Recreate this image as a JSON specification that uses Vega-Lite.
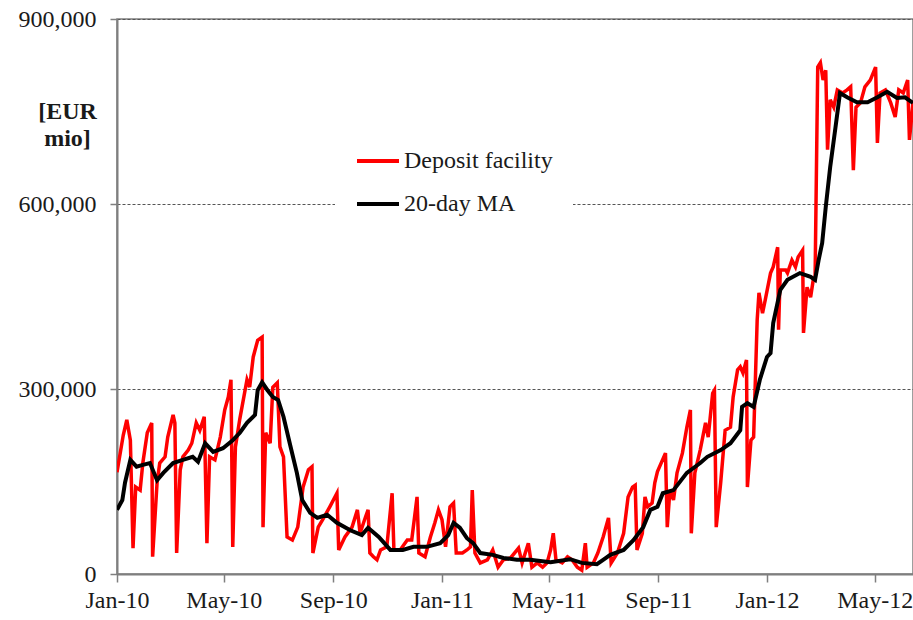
{
  "$schema": "https://vega.github.io/schema/vega-lite/v6.json",
  "width": 796,
  "height": 555,
  "autosize": {"type": "none"},
  "padding": {"left": 117, "top": 19, "right": 0, "bottom": 46},
  "background": "white",
  "config": {
    "font": "Liberation Serif",
    "view": {"stroke": "#7f7f7f", "strokeWidth": 1.5}
  },
  "datasets": {
    "deposit": [
      {"date": "2010-01-01", "value": 165000}, {"date": "2010-01-08", "value": 225000}, {"date": "2010-01-12", "value": 250000}, {"date": "2010-01-16", "value": 217000}, {"date": "2010-01-19", "value": 42000}, {"date": "2010-01-22", "value": 141000}, {"date": "2010-01-27", "value": 136000}, {"date": "2010-01-30", "value": 180000},
      {"date": "2010-02-04", "value": 229000}, {"date": "2010-02-09", "value": 245000}, {"date": "2010-02-10", "value": 28000}, {"date": "2010-02-15", "value": 148000}, {"date": "2010-02-18", "value": 180000}, {"date": "2010-02-24", "value": 190000}, {"date": "2010-02-27", "value": 222000},
      {"date": "2010-03-05", "value": 258000}, {"date": "2010-03-07", "value": 245000}, {"date": "2010-03-09", "value": 34000}, {"date": "2010-03-13", "value": 169000}, {"date": "2010-03-16", "value": 190000}, {"date": "2010-03-22", "value": 201000}, {"date": "2010-03-26", "value": 212000}, {"date": "2010-03-31", "value": 245000},
      {"date": "2010-04-04", "value": 233000}, {"date": "2010-04-09", "value": 255000}, {"date": "2010-04-12", "value": 50000}, {"date": "2010-04-15", "value": 190000}, {"date": "2010-04-21", "value": 185000}, {"date": "2010-04-27", "value": 222000},
      {"date": "2010-05-02", "value": 266000}, {"date": "2010-05-06", "value": 287000}, {"date": "2010-05-09", "value": 315000}, {"date": "2010-05-11", "value": 44000}, {"date": "2010-05-14", "value": 206000}, {"date": "2010-05-19", "value": 252000}, {"date": "2010-05-27", "value": 315000}, {"date": "2010-05-30", "value": 303000},
      {"date": "2010-06-03", "value": 352000}, {"date": "2010-06-08", "value": 379000}, {"date": "2010-06-13", "value": 384000}, {"date": "2010-06-14", "value": 76000}, {"date": "2010-06-17", "value": 229000}, {"date": "2010-06-22", "value": 212000}, {"date": "2010-06-25", "value": 303000}, {"date": "2010-06-30", "value": 310000},
      {"date": "2010-07-03", "value": 206000}, {"date": "2010-07-07", "value": 190000}, {"date": "2010-07-11", "value": 60000}, {"date": "2010-07-17", "value": 55000}, {"date": "2010-07-23", "value": 76000}, {"date": "2010-07-29", "value": 141000},
      {"date": "2010-08-04", "value": 169000}, {"date": "2010-08-08", "value": 174000}, {"date": "2010-08-09", "value": 34000}, {"date": "2010-08-15", "value": 76000}, {"date": "2010-08-20", "value": 88000}, {"date": "2010-08-28", "value": 109000},
      {"date": "2010-09-05", "value": 131000}, {"date": "2010-09-07", "value": 39000}, {"date": "2010-09-14", "value": 60000}, {"date": "2010-09-22", "value": 76000}, {"date": "2010-09-28", "value": 104000},
      {"date": "2010-10-01", "value": 66000}, {"date": "2010-10-07", "value": 92000}, {"date": "2010-10-10", "value": 104000}, {"date": "2010-10-12", "value": 34000}, {"date": "2010-10-16", "value": 28000}, {"date": "2010-10-20", "value": 23000}, {"date": "2010-10-24", "value": 39000}, {"date": "2010-10-31", "value": 44000},
      {"date": "2010-11-06", "value": 131000}, {"date": "2010-11-08", "value": 39000}, {"date": "2010-11-15", "value": 39000}, {"date": "2010-11-23", "value": 55000}, {"date": "2010-11-28", "value": 55000},
      {"date": "2010-12-04", "value": 125000}, {"date": "2010-12-06", "value": 34000}, {"date": "2010-12-13", "value": 28000}, {"date": "2010-12-19", "value": 60000}, {"date": "2010-12-24", "value": 83000}, {"date": "2010-12-28", "value": 104000},
      {"date": "2011-01-01", "value": 88000}, {"date": "2011-01-05", "value": 44000}, {"date": "2011-01-10", "value": 109000}, {"date": "2011-01-14", "value": 115000}, {"date": "2011-01-17", "value": 34000}, {"date": "2011-01-24", "value": 34000}, {"date": "2011-01-29", "value": 39000},
      {"date": "2011-02-02", "value": 44000}, {"date": "2011-02-04", "value": 136000}, {"date": "2011-02-07", "value": 34000}, {"date": "2011-02-13", "value": 18000}, {"date": "2011-02-21", "value": 23000}, {"date": "2011-02-27", "value": 39000},
      {"date": "2011-03-05", "value": 11000}, {"date": "2011-03-11", "value": 23000}, {"date": "2011-03-19", "value": 26000}, {"date": "2011-03-28", "value": 42000},
      {"date": "2011-04-01", "value": 18000}, {"date": "2011-04-08", "value": 50000}, {"date": "2011-04-12", "value": 11000}, {"date": "2011-04-18", "value": 18000}, {"date": "2011-04-24", "value": 11000}, {"date": "2011-04-29", "value": 18000},
      {"date": "2011-05-03", "value": 39000}, {"date": "2011-05-06", "value": 66000}, {"date": "2011-05-09", "value": 23000}, {"date": "2011-05-16", "value": 18000}, {"date": "2011-05-22", "value": 28000}, {"date": "2011-05-27", "value": 23000},
      {"date": "2011-06-02", "value": 11000}, {"date": "2011-06-07", "value": 6000}, {"date": "2011-06-11", "value": 50000}, {"date": "2011-06-13", "value": 11000}, {"date": "2011-06-20", "value": 18000}, {"date": "2011-06-25", "value": 34000},
      {"date": "2011-07-01", "value": 60000}, {"date": "2011-07-07", "value": 91000}, {"date": "2011-07-10", "value": 18000}, {"date": "2011-07-17", "value": 34000}, {"date": "2011-07-24", "value": 66000}, {"date": "2011-07-29", "value": 125000},
      {"date": "2011-08-03", "value": 141000}, {"date": "2011-08-06", "value": 144000}, {"date": "2011-08-08", "value": 39000}, {"date": "2011-08-14", "value": 66000}, {"date": "2011-08-17", "value": 125000}, {"date": "2011-08-20", "value": 109000}, {"date": "2011-08-25", "value": 115000}, {"date": "2011-08-28", "value": 148000}, {"date": "2011-08-31", "value": 166000},
      {"date": "2011-09-09", "value": 196000}, {"date": "2011-09-11", "value": 76000}, {"date": "2011-09-14", "value": 136000}, {"date": "2011-09-18", "value": 120000}, {"date": "2011-09-22", "value": 164000}, {"date": "2011-09-28", "value": 196000},
      {"date": "2011-10-03", "value": 238000}, {"date": "2011-10-07", "value": 266000}, {"date": "2011-10-08", "value": 66000}, {"date": "2011-10-12", "value": 164000}, {"date": "2011-10-18", "value": 201000}, {"date": "2011-10-24", "value": 245000}, {"date": "2011-10-27", "value": 222000},
      {"date": "2011-11-01", "value": 293000}, {"date": "2011-11-03", "value": 298000}, {"date": "2011-11-05", "value": 76000}, {"date": "2011-11-10", "value": 148000}, {"date": "2011-11-15", "value": 233000}, {"date": "2011-11-21", "value": 238000}, {"date": "2011-11-24", "value": 287000}, {"date": "2011-11-29", "value": 331000},
      {"date": "2011-12-02", "value": 336000}, {"date": "2011-12-05", "value": 326000}, {"date": "2011-12-09", "value": 347000}, {"date": "2011-12-10", "value": 141000}, {"date": "2011-12-14", "value": 217000}, {"date": "2011-12-17", "value": 222000}, {"date": "2011-12-21", "value": 412000}, {"date": "2011-12-23", "value": 456000}, {"date": "2011-12-27", "value": 423000}, {"date": "2011-12-30", "value": 444000},
      {"date": "2012-01-05", "value": 488000}, {"date": "2012-01-08", "value": 498000}, {"date": "2012-01-13", "value": 530000}, {"date": "2012-01-14", "value": 396000}, {"date": "2012-01-16", "value": 493000}, {"date": "2012-01-22", "value": 493000}, {"date": "2012-01-24", "value": 488000}, {"date": "2012-01-29", "value": 509000},
      {"date": "2012-02-02", "value": 498000}, {"date": "2012-02-05", "value": 514000}, {"date": "2012-02-10", "value": 525000}, {"date": "2012-02-11", "value": 391000}, {"date": "2012-02-15", "value": 465000}, {"date": "2012-02-19", "value": 449000}, {"date": "2012-02-22", "value": 477000}, {"date": "2012-02-24", "value": 477000}, {"date": "2012-02-27", "value": 822000},
      {"date": "2012-03-01", "value": 829000}, {"date": "2012-03-04", "value": 801000}, {"date": "2012-03-07", "value": 817000}, {"date": "2012-03-09", "value": 688000}, {"date": "2012-03-12", "value": 769000}, {"date": "2012-03-16", "value": 757000}, {"date": "2012-03-20", "value": 785000}, {"date": "2012-03-26", "value": 780000}, {"date": "2012-03-31", "value": 785000},
      {"date": "2012-04-04", "value": 790000}, {"date": "2012-04-07", "value": 655000}, {"date": "2012-04-10", "value": 757000}, {"date": "2012-04-15", "value": 764000}, {"date": "2012-04-20", "value": 790000}, {"date": "2012-04-26", "value": 801000},
      {"date": "2012-05-02", "value": 822000}, {"date": "2012-05-04", "value": 699000}, {"date": "2012-05-07", "value": 780000}, {"date": "2012-05-13", "value": 785000}, {"date": "2012-05-19", "value": 764000}, {"date": "2012-05-24", "value": 741000}, {"date": "2012-05-28", "value": 785000},
      {"date": "2012-06-02", "value": 780000}, {"date": "2012-06-07", "value": 801000}, {"date": "2012-06-09", "value": 704000}, {"date": "2012-06-13", "value": 764000}
    ],
    "ma": [
      {"date": "2010-01-01", "value": 104000}, {"date": "2010-01-07", "value": 120000}, {"date": "2010-01-10", "value": 148000}, {"date": "2010-01-16", "value": 185000}, {"date": "2010-01-23", "value": 174000}, {"date": "2010-01-30", "value": 177000},
      {"date": "2010-02-07", "value": 180000}, {"date": "2010-02-15", "value": 152000}, {"date": "2010-02-22", "value": 164000}, {"date": "2010-03-05", "value": 180000}, {"date": "2010-03-16", "value": 185000}, {"date": "2010-03-27", "value": 190000},
      {"date": "2010-04-02", "value": 182000}, {"date": "2010-04-10", "value": 212000}, {"date": "2010-04-19", "value": 198000}, {"date": "2010-04-30", "value": 204000}, {"date": "2010-05-11", "value": 217000}, {"date": "2010-05-19", "value": 229000}, {"date": "2010-05-27", "value": 245000},
      {"date": "2010-06-05", "value": 258000}, {"date": "2010-06-08", "value": 298000}, {"date": "2010-06-13", "value": 311000}, {"date": "2010-06-19", "value": 298000}, {"date": "2010-06-25", "value": 287000}, {"date": "2010-07-01", "value": 282000},
      {"date": "2010-07-07", "value": 255000}, {"date": "2010-07-14", "value": 212000}, {"date": "2010-07-22", "value": 164000}, {"date": "2010-07-28", "value": 120000}, {"date": "2010-08-06", "value": 99000}, {"date": "2010-08-14", "value": 91000}, {"date": "2010-08-25", "value": 96000},
      {"date": "2010-09-05", "value": 83000}, {"date": "2010-09-20", "value": 71000}, {"date": "2010-10-03", "value": 63000}, {"date": "2010-10-10", "value": 75000}, {"date": "2010-10-22", "value": 60000}, {"date": "2010-11-04", "value": 39000}, {"date": "2010-11-18", "value": 39000}, {"date": "2010-11-30", "value": 44000},
      {"date": "2010-12-15", "value": 44000}, {"date": "2010-12-30", "value": 50000}, {"date": "2011-01-08", "value": 63000}, {"date": "2011-01-14", "value": 83000}, {"date": "2011-01-21", "value": 75000}, {"date": "2011-01-29", "value": 58000}, {"date": "2011-02-05", "value": 50000},
      {"date": "2011-02-13", "value": 34000}, {"date": "2011-02-27", "value": 31000}, {"date": "2011-03-11", "value": 26000}, {"date": "2011-03-26", "value": 23000}, {"date": "2011-04-10", "value": 23000}, {"date": "2011-05-03", "value": 19000}, {"date": "2011-05-25", "value": 24000},
      {"date": "2011-06-07", "value": 18000}, {"date": "2011-06-24", "value": 16000}, {"date": "2011-07-01", "value": 23000}, {"date": "2011-07-09", "value": 31000}, {"date": "2011-07-24", "value": 39000}, {"date": "2011-08-04", "value": 55000}, {"date": "2011-08-15", "value": 76000},
      {"date": "2011-08-23", "value": 104000}, {"date": "2011-08-31", "value": 109000}, {"date": "2011-09-06", "value": 131000}, {"date": "2011-09-18", "value": 136000}, {"date": "2011-10-03", "value": 164000}, {"date": "2011-10-18", "value": 180000}, {"date": "2011-10-26", "value": 190000},
      {"date": "2011-11-10", "value": 201000}, {"date": "2011-11-21", "value": 212000}, {"date": "2011-12-02", "value": 233000}, {"date": "2011-12-04", "value": 271000}, {"date": "2011-12-10", "value": 277000}, {"date": "2011-12-17", "value": 271000}, {"date": "2011-12-24", "value": 315000},
      {"date": "2012-01-01", "value": 352000}, {"date": "2012-01-05", "value": 358000}, {"date": "2012-01-08", "value": 407000}, {"date": "2012-01-16", "value": 461000}, {"date": "2012-01-24", "value": 477000}, {"date": "2012-02-07", "value": 488000}, {"date": "2012-02-19", "value": 482000},
      {"date": "2012-02-24", "value": 477000}, {"date": "2012-02-28", "value": 509000}, {"date": "2012-03-03", "value": 537000}, {"date": "2012-03-07", "value": 595000}, {"date": "2012-03-12", "value": 660000}, {"date": "2012-03-18", "value": 725000}, {"date": "2012-03-23", "value": 780000},
      {"date": "2012-03-31", "value": 773000}, {"date": "2012-04-11", "value": 765000}, {"date": "2012-04-23", "value": 765000}, {"date": "2012-05-04", "value": 773000}, {"date": "2012-05-15", "value": 782000}, {"date": "2012-05-26", "value": 772000}, {"date": "2012-06-04", "value": 773000},
      {"date": "2012-06-08", "value": 769000}, {"date": "2012-06-13", "value": 764000}
    ]
  },
  "encoding": {
    "x": {
      "field": "date",
      "type": "temporal",
      "scale": {"type": "utc", "domain": [{"year": 2010, "month": 1, "date": 1, "utc": true}, {"year": 2012, "month": 6, "date": 13, "utc": true}]},
      "axis": {
        "title": null,
        "values": [
          {"year": 2010, "month": 1, "date": 1, "utc": true}, {"year": 2010, "month": 5, "date": 1, "utc": true}, {"year": 2010, "month": 9, "date": 1, "utc": true},
          {"year": 2011, "month": 1, "date": 1, "utc": true}, {"year": 2011, "month": 5, "date": 1, "utc": true}, {"year": 2011, "month": 9, "date": 1, "utc": true},
          {"year": 2012, "month": 1, "date": 1, "utc": true}, {"year": 2012, "month": 5, "date": 1, "utc": true}
        ],
        "labelExpr": "utcFormat(datum.value, '%b-%y')",
        "grid": false,
        "domainColor": "#7f7f7f",
        "domainWidth": 2,
        "tickColor": "#7f7f7f",
        "tickWidth": 1.5,
        "tickSize": 8,
        "labelPadding": 6,
        "labelFont": "Liberation Serif",
        "labelFontSize": 24,
        "labelColor": "#1a1a1a",
        "labelFlush": false,
        "labelOverlap": false
      }
    },
    "y": {
      "field": "value",
      "type": "quantitative",
      "scale": {"domain": [0, 900000], "nice": false},
      "axis": {
        "title": ["[EUR", "mio]"],
        "titleAngle": 0,
        "titleAlign": "center",
        "titleBaseline": "alphabetic",
        "titleX": -50,
        "titleY": 99,
        "titleLineHeight": 27,
        "titleFont": "Liberation Serif",
        "titleFontSize": 24,
        "titleFontWeight": "bold",
        "titleColor": "#1a1a1a",
        "values": [0, 300000, 600000, 900000],
        "format": ",.0f",
        "grid": true,
        "gridDash": [3, 2],
        "gridColor": "#555555",
        "gridWidth": 1,
        "domainColor": "#7f7f7f",
        "domainWidth": 2,
        "tickColor": "#7f7f7f",
        "tickWidth": 1.5,
        "tickSize": 7,
        "labelPadding": 14,
        "labelFont": "Liberation Serif",
        "labelFontSize": 24,
        "labelColor": "#1a1a1a"
      }
    }
  },
  "layer": [
    {
      "data": {"name": "deposit"},
      "mark": {"type": "line", "strokeWidth": 3.5, "interpolate": "linear", "clip": true},
      "encoding": {
        "color": {
          "datum": "Deposit facility",
          "type": "nominal",
          "scale": {"domain": ["Deposit facility", "20-day MA"], "range": ["#ff0000", "#000000"]},
          "legend": {
            "title": null,
            "orient": "none",
            "legendX": 218,
            "legendY": 99,
            "direction": "vertical",
            "symbolType": "stroke",
            "symbolStrokeWidth": 4,
            "symbolSize": 1764,
            "labelFont": "Liberation Serif",
            "labelFontSize": 24,
            "labelColor": "#1a1a1a",
            "labelOffset": 3,
            "labelLimit": 300,
            "fillColor": "white",
            "padding": 20,
            "rowPadding": 8
          }
        }
      }
    },
    {
      "data": {"name": "ma"},
      "mark": {"type": "line", "strokeWidth": 4, "interpolate": "linear", "clip": true},
      "encoding": {
        "color": {"datum": "20-day MA", "type": "nominal"}
      }
    }
  ]
}
